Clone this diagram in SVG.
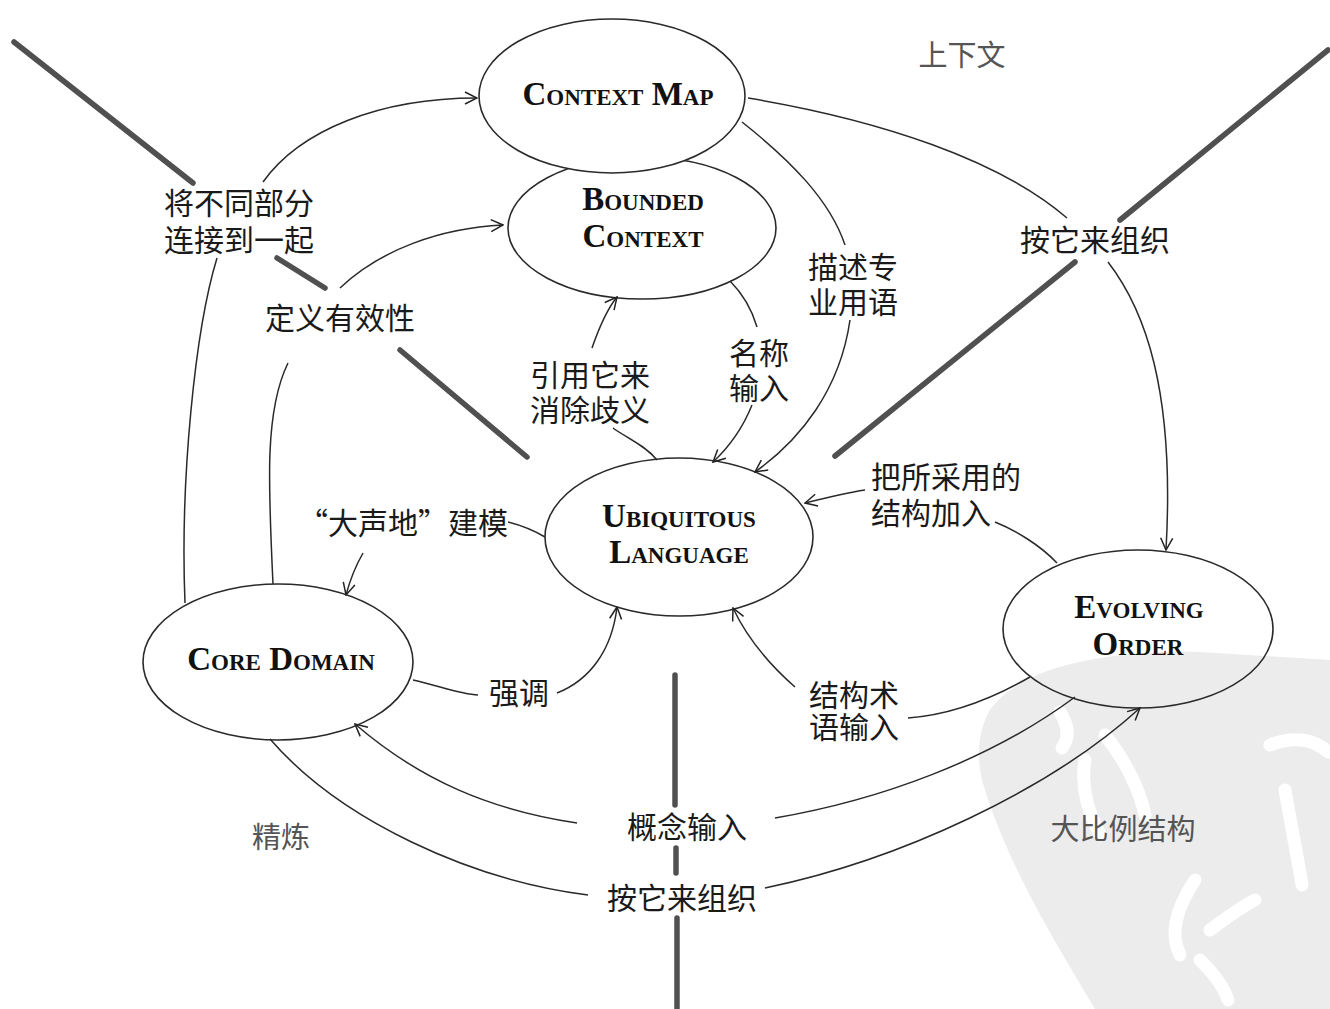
<svg xmlns="http://www.w3.org/2000/svg" width="1330" height="1009" viewBox="0 0 1330 1009">
<defs>
<marker id="arr" viewBox="0 0 14 14" refX="13" refY="7" markerWidth="14" markerHeight="14" markerUnits="userSpaceOnUse" orient="auto">
<path d="M1,1 L13,7 L1,13" fill="none" stroke="#222" stroke-width="1.5"/>
</marker>
</defs>
<style>
.bg{fill:#ffffff}
.wm{fill:#ececec}
.wms{fill:none;stroke:#ffffff;stroke-width:13;stroke-linecap:round}
.thick{fill:none;stroke:#505050;stroke-width:5.5;stroke-linecap:round}
.node ellipse{fill:#ffffff;stroke:#2a2a2a;stroke-width:1.6}
.node text{font-family:"Liberation Serif",serif;font-weight:bold;font-variant:small-caps;font-size:33px;fill:#111;text-anchor:middle}
.con path{fill:none;stroke:#2a2a2a;stroke-width:1.5}
.con path.a{marker-end:url(#arr)}
.lbl{font-family:"Liberation Sans","Noto Sans CJK SC","Noto Sans CJK JP",sans-serif;font-size:30px;fill:#1a1a1a}
.cjk{font-family:"Noto Sans CJK SC","Noto Sans CJK JP",sans-serif}
.reg{font-family:"Liberation Sans","Noto Sans CJK SC","Noto Sans CJK JP",sans-serif;font-size:29px;fill:#555}
</style>
<rect class="bg" x="0" y="0" width="1330" height="1009"/>
<g id="watermark">
<path class="wm" d="M990 710 C1020 668 1100 650 1200 652 L1330 660 L1330 1009 L1095 1009 C1060 950 1010 870 985 790 C975 760 978 730 990 710 Z"/>
<path class="wms" d="M1060 712 C1070 728 1068 740 1062 748"/>
<path class="wms" d="M1085 760 C1080 790 1090 815 1100 835"/>
<path class="wms" d="M1105 735 C1125 760 1140 790 1145 815"/>
<path class="wms" d="M1195 880 C1175 910 1170 935 1180 955"/>
<path class="wms" d="M1210 930 C1230 915 1245 905 1255 900"/>
<path class="wms" d="M1200 960 C1215 975 1225 990 1228 1000"/>
<path class="wms" d="M1270 745 C1295 735 1315 740 1328 752"/>
<path class="wms" d="M1285 790 C1292 830 1298 860 1302 885"/>
</g>
<g id="regions">
<path class="thick" d="M14 42 L193 183"/>
<path class="thick" d="M277 258 L325 288"/>
<path class="thick" d="M400 350 L527 457"/>
<path class="thick" d="M1328 50 L1120 220"/>
<path class="thick" d="M1075 262 L835 456"/>
<path class="thick" d="M675 675 L675 805"/>
<path class="thick" d="M676 848 L676 873"/>
<path class="thick" d="M677 918 L677 1009"/>
<text class="reg" x="962" y="66" text-anchor="middle">上下文</text>
<text class="reg" x="281" y="848" text-anchor="middle">精炼</text>
<text class="reg" x="1123" y="840" text-anchor="middle">大比例结构</text>
</g>
<g id="bounded-context" class="node">
<ellipse cx="642" cy="228" rx="134" ry="71"/>
<text x="643" y="210">Bounded<tspan x="643" y="247">Context</tspan></text>
</g>
<g id="context-map" class="node">
<ellipse cx="612" cy="96" rx="133" ry="77"/>
<text x="618" y="105">Context Map</text>
</g>
<g id="ubiquitous-language" class="node">
<ellipse cx="679" cy="537" rx="134" ry="79"/>
<text x="679" y="527">Ubiquitous<tspan x="679" y="563">Language</tspan></text>
</g>
<g id="core-domain" class="node">
<ellipse cx="278" cy="662" rx="135" ry="78"/>
<text x="281" y="670">Core Domain</text>
</g>
<g id="evolving-order" class="node">
<ellipse cx="1138" cy="629" rx="135" ry="79" style="fill:none"/>
<text x="1139" y="618">Evolving<tspan x="1138" y="655">Order</tspan></text>
</g>
<g id="connectors" class="con">
<path d="M185 603 C180 480 195 330 217 258"/>
<path class="a" d="M263 182 C300 130 380 98 477 98"/>
<path d="M273 584 C268 480 265 410 288 363"/>
<path class="a" d="M340 288 C380 250 440 228 503 225"/>
<path d="M657 460 C645 445 625 437 613 428"/>
<path class="a" d="M592 348 C600 325 608 308 617 297"/>
<path d="M730 281 C742 293 752 310 757 327"/>
<path class="a" d="M752 405 C742 430 728 448 713 462"/>
<path d="M742 122 C790 160 830 200 845 245"/>
<path class="a" d="M850 320 C840 390 800 440 755 472"/>
<path d="M748 98 C880 120 1000 160 1067 218"/>
<path class="a" d="M1108 262 C1145 310 1175 390 1166 550"/>
<path d="M1057 563 C1040 545 1015 530 995 522"/>
<path class="a" d="M865 490 C845 493 825 498 805 503"/>
<path d="M545 537 C533 530 520 525 508 522"/>
<path class="a" d="M363 553 C355 567 350 580 346 595"/>
<path d="M413 680 C440 686 460 694 478 695"/>
<path class="a" d="M557 693 C590 680 612 650 617 607"/>
<path d="M1030 677 C990 700 950 715 908 718"/>
<path class="a" d="M795 687 C770 665 748 640 733 608"/>
<path d="M1075 697 C990 760 880 800 775 818"/>
<path class="a" d="M577 823 C490 810 420 780 355 724"/>
<path d="M270 739 C340 820 470 880 588 895"/>
<path class="a" d="M765 888 C900 860 1050 790 1140 708"/>
</g>
<g id="labels">
<text class="lbl" x="239" y="214" text-anchor="middle">将不同部分<tspan x="239" y="251">连接到一起</tspan></text>
<text class="lbl" x="340" y="329" text-anchor="middle">定义有效性</text>
<text class="lbl" x="590" y="386" text-anchor="middle">引用它来<tspan x="590" y="421">消除歧义</tspan></text>
<text class="lbl" x="759" y="364" text-anchor="middle">名称<tspan x="759" y="399">输入</tspan></text>
<text class="lbl" x="853" y="278" text-anchor="middle">描述专<tspan x="853" y="313">业用语</tspan></text>
<text class="lbl" x="1095" y="251" text-anchor="middle">按它来组织</text>
<text class="lbl" x="871" y="488">把所采用的<tspan x="871" y="524">结构加入</tspan></text>
<text class="lbl cjk" x="298" y="534">“大声地”建模</text>
<text class="lbl" x="519" y="704" text-anchor="middle">强调</text>
<text class="lbl" x="809" y="706">结构术<tspan x="809" y="738">语输入</tspan></text>
<text class="lbl" x="687" y="838" text-anchor="middle">概念输入</text>
<text class="lbl" x="682" y="909" text-anchor="middle">按它来组织</text>
</g>
</svg>
